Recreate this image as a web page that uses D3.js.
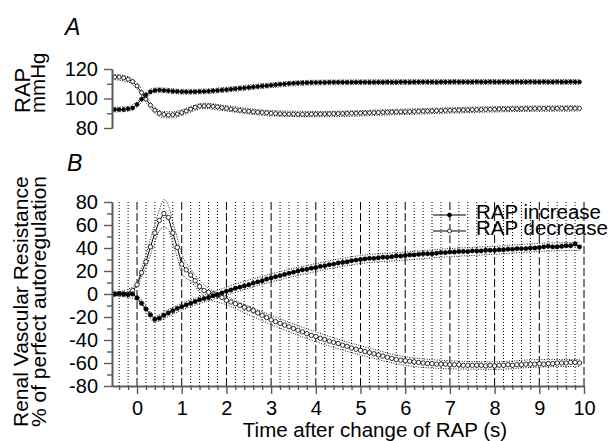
<!DOCTYPE html>
<html>
<head>
<meta charset="utf-8">
<script src="https://cdn.jsdelivr.net/npm/d3@7"></script>
<style>
body { margin: 0; background: #fff; }
text { font-family: "Liberation Sans", Arial, Helvetica, sans-serif; fill: #000; }
</style>
</head>
<body>
<svg id="chart" width="613" height="441"></svg>
<script>
"use strict";

// Samples are 0.1 s apart, from -0.5 s to 9.9 s (105 points)
var times = d3.range(105).map(function (i) { return (i - 5) / 10; });

// Panel A: renal arterial pressure (mmHg)
var rapIncrease = [
    92.5, 92.5, 92.5, 93, 93.5, 96, 99.5, 102.5, 104.5, 105.5,
    105.8, 105.5, 105.3, 105, 104.8, 104.6, 104.5, 104.5, 104.6, 104.7,
    104.8, 105, 105.2, 105.5, 105.7, 106, 106.3, 106.6, 106.9, 107.2,
    107.5, 107.8, 108.1, 108.4, 108.7, 109, 109.3, 109.6, 109.9, 110.1,
    110.3, 110.5, 110.6, 110.7, 110.8, 110.8, 110.9, 110.9, 111, 111,
    111, 111, 111, 111, 111.1, 111.1, 111.1, 111, 111.1, 111.1,
    111.1, 111.2, 111.1, 111.1, 111.2, 111.2, 111.1, 111.2, 111.2, 111.2,
    111.2, 111.2, 111.1, 111.2, 111.2, 111.2, 111.3, 111.2, 111.2, 111.2,
    111.2, 111.3, 111.2, 111.2, 111.3, 111.2, 111.2, 111.3, 111.2, 111.2,
    111.3, 111.2, 111.2, 111.3, 111.2, 111.2, 111.3, 111.2, 111.2, 111.3,
    111.2, 111.2, 111.3, 111.2, 111.2
];
var rapDecrease = [
    114.5, 114.5, 114, 113, 111.5, 108.5, 104, 99.5, 95.5, 92,
    90, 89.2, 88.8, 89, 89.5, 90.5, 91.5, 92.8, 94, 94.8,
    95, 95, 94.7, 94.3, 93.8, 93.3, 92.8, 92.4, 92, 91.6,
    91.3, 91, 90.7, 90.5, 90.3, 90, 89.8, 89.7, 89.5, 89.4,
    89.4, 89.3, 89.3, 89.3, 89.4, 89.4, 89.5, 89.5, 89.6, 89.7,
    89.8, 89.8, 89.9, 90, 90, 90.1, 90.2, 90.3, 90.4, 90.5,
    90.6, 90.7, 90.8, 90.9, 91, 91, 91.1, 91.2, 91.3, 91.4,
    91.5, 91.6, 91.7, 91.8, 91.9, 92, 92, 92.1, 92.2, 92.3,
    92.4, 92.4, 92.5, 92.6, 92.7, 92.7, 92.8, 92.8, 92.9, 93,
    93, 93, 93.1, 93.1, 93.2, 93.2, 93.2, 93.3, 93.2, 93.3,
    93.3, 93.3, 93.4, 93.3, 93.3
];
// Standard error envelopes for panel A, read at coarser times
var bandTimesA = [-0.5, -0.2, 0, 0.2, 0.4, 0.6, 0.8, 1, 1.5, 2, 3, 4, 6, 8, 9.9];
var rapIncHigh = [94.1, 94.6, 97.8, 104.3, 107.1, 107.1, 106.6, 106.2, 106.4, 107.6, 110.6, 112.4, 112.7, 112.8, 112.8];
var rapIncLow = [90.9, 91.4, 94.2, 100.7, 103.9, 103.9, 103.4, 103, 103.2, 104.4, 107.4, 109.2, 109.5, 109.6, 109.6];
var rapDecHigh = [116.3, 114.8, 110.5, 101.5, 94, 91.2, 91, 92.4, 96.8, 95.1, 91.8, 91.2, 92.8, 94.5, 95.1];
var rapDecLow = [112.7, 111.2, 106.5, 97.5, 90, 87, 86.8, 88.5, 93.2, 91.5, 88.2, 87.6, 89.2, 90.9, 91.5];

// Panel B: renal vascular resistance (% of perfect autoregulation)
var rvrIncrease = [
    0, 0.5, 0, -0.5, 0, -3.5, -8, -13, -18, -22,
    -21, -18.5, -16.5, -14.5, -12.5, -11, -9.5, -8, -6.5, -5,
    -4, -3, -1.5, -0.5, 1, 2.5, 3.5, 5, 6, 7,
    8, 9.5, 10.5, 11.5, 13, 14, 15, 16, 17, 18,
    19, 20, 21, 21.5, 22.5, 23, 24, 24.5, 25.5, 26,
    27, 27.5, 28, 29, 29.5, 30, 30.5, 31, 31, 31.5,
    32, 32, 32.5, 33, 33, 33.5, 34, 34, 34.5, 35,
    35, 35, 35.5, 36, 36, 36.5, 36.5, 37, 37, 37,
    37.5, 37.5, 37.5, 38, 38, 38, 38.5, 38.5, 39, 39,
    39.5, 39.5, 39.5, 40, 40, 40.5, 41, 41.5, 41, 41,
    41.5, 42, 42, 43.5, 41
];
var rvrDecrease = [
    0, 0, 0, 0, 3, 8, 18.5, 28, 41, 53,
    64, 70, 66.5, 53, 40.5, 26, 21, 16.5, 11.5, 6.5,
    3, 1.5, 0, -1, -3, -5.5, -7, -8.5, -10, -11.5,
    -13, -14.5, -16.5, -18.5, -20.5, -22.5, -24, -25.5, -27, -28.5,
    -30, -31.5, -33, -34.5, -36, -37, -38.5, -39.5, -41, -42,
    -43, -44.5, -45.5, -47, -48, -49, -50, -51, -52, -53,
    -54, -55, -56, -57, -57.5, -58, -58.5, -59, -59.5, -60,
    -60.5, -60.5, -61, -61, -61, -61.5, -61.5, -61.5, -62, -62,
    -62, -62, -62, -62.5, -62, -62.5, -62, -62, -61.5, -62,
    -61.5, -61.5, -61, -61, -61, -60.5, -61, -60.5, -60.5, -60,
    -60, -60, -59.5, -59.5, -60
];
var bandTimesInc = [-0.5, 0, 0.2, 0.4, 0.6, 1, 1.5, 2, 3, 4, 5, 6, 7, 8, 9, 9.9];
var rvrIncHigh = [1.5, -1.5, -10.5, -19.5, -15.5, -8, -1, 6, 17.5, 26.5, 33.5, 36.5, 39.5, 41.5, 44, 45];
var rvrIncLow = [-1.5, -5, -15.5, -24.5, -21.5, -14, -7, -1, 10.5, 19.5, 26.5, 29.5, 32.5, 34.5, 37, 38];
var bandTimesDec = [-0.5, 0, 0.1, 0.2, 0.3, 0.4, 0.5, 0.6, 0.7, 0.8, 0.9, 1, 1.2, 1.5, 2, 3, 4, 5, 6, 7, 8, 9, 9.9];
var rvrDecHigh = [1, 9, 22, 34, 48, 61, 73, 82, 77, 63, 49, 35, 22, 8, -2, -18.5, -33, -45, -54.5, -58, -59, -57, -57];
var rvrDecLow = [-1, 6, 15, 23, 34, 45, 55, 58, 56, 44, 32, 18, 11, -2, -9.5, -26.5, -41.5, -53, -62, -65, -65.5, -63.5, -63];

var xTicks = [0, 1, 2, 3, 4, 5, 6, 7, 8, 9, 10];
var legendLabels = ["RAP increase", "RAP decrease"];

var svg = d3.select("#chart");
var axisColor = "#5a5a5a";
var fontFamily = "Liberation Sans, Arial, Helvetica, sans-serif";

var x = d3.scaleLinear().domain([-0.56, 10]).range([112, 584]);
var yA = d3.scaleLinear().domain([80, 120]).range([128, 69]);
var yB = d3.scaleLinear().domain([-80, 80]).range([386, 202]);

function zip(ts, vs) {
    return ts.map(function (t, i) { return [t, vs[i]]; });
}

function styleAxis(g) {
    g.attr("font-family", fontFamily).attr("font-size", 20);
    g.select(".domain").attr("stroke", axisColor).attr("stroke-width", 1.6);
    g.selectAll(".tick line").attr("stroke", axisColor).attr("stroke-width", 1.4);
    g.selectAll(".tick text").attr("fill", "#000").style("font-size", "20px");
}

// minor axes carry ticks only, no labels
function minorOnly(g) {
    styleAxis(g);
    g.selectAll(".tick text").remove();
}

// ---- Panel B grid ----
var minorGrid = d3.range(-2, 50).filter(function (i) { return i % 5 !== 0; })
    .map(function (i) { return i / 5; });
var grid = svg.append("g");
grid.selectAll("line.minor")
  .data(minorGrid)
  .enter().append("line")
    .attr("x1", function (d) { return x(d); })
    .attr("x2", function (d) { return x(d); })
    .attr("y1", yB(80))
    .attr("y2", yB(-80))
    .attr("stroke", "#000")
    .attr("stroke-width", 1)
    .attr("stroke-dasharray", "1,2");
grid.selectAll("line.major")
  .data(xTicks)
  .enter().append("line")
    .attr("x1", function (d) { return x(d); })
    .attr("x2", function (d) { return x(d); })
    .attr("y1", yB(80))
    .attr("y2", yB(-80))
    .attr("stroke", "#000")
    .attr("stroke-width", 1)
    .attr("stroke-dasharray", "8,3");

// ---- Bands (dotted) ----
function band(yScale, ts, vs) {
    svg.append("path")
        .datum(zip(ts, vs))
        .attr("fill", "none")
        .attr("stroke", "#000")
        .attr("stroke-width", 0.9)
        .attr("stroke-dasharray", "1,1.5")
        .attr("d", d3.line()
            .x(function (d) { return x(d[0]); })
            .y(function (d) { return yScale(d[1]); })
            .curve(d3.curveMonotoneX));
}
band(yA, bandTimesA, rapIncHigh);
band(yA, bandTimesA, rapIncLow);
band(yA, bandTimesA, rapDecHigh);
band(yA, bandTimesA, rapDecLow);
band(yB, bandTimesInc, rvrIncHigh);
band(yB, bandTimesInc, rvrIncLow);
band(yB, bandTimesDec, rvrDecHigh);
band(yB, bandTimesDec, rvrDecLow);

// ---- Series ----
function series(yScale, vs, filled, r) {
    var pts = zip(times, vs);
    svg.append("path")
        .datum(pts)
        .attr("fill", "none")
        .attr("stroke", "#000")
        .attr("stroke-width", 1)
        .attr("d", d3.line()
            .x(function (d) { return x(d[0]); })
            .y(function (d) { return yScale(d[1]); }));
    svg.append("g").selectAll("circle")
      .data(pts)
      .enter().append("circle")
        .attr("cx", function (d) { return x(d[0]); })
        .attr("cy", function (d) { return yScale(d[1]); })
        .attr("r", r)
        .attr("fill", filled ? "#000" : "#fff")
        .attr("stroke", "#000")
        .attr("stroke-width", filled ? 0.5 : 0.8);
}
series(yA, rapDecrease, false, 2);
series(yA, rapIncrease, true, 2);
series(yB, rvrDecrease, false, 2.2);
series(yB, rvrIncrease, true, 2.2);

// ---- Axes ----
svg.append("g")
    .attr("transform", "translate(112,0)")
    .call(d3.axisLeft(yA).tickValues([90, 110]).tickSize(5).tickSizeOuter(0))
    .call(minorOnly);
svg.append("g")
    .attr("transform", "translate(112,0)")
    .call(d3.axisLeft(yA).tickValues([80, 100, 120]).tickSize(8).tickPadding(6).tickSizeOuter(0))
    .call(styleAxis);

svg.append("g")
    .attr("transform", "translate(112,0)")
    .call(d3.axisLeft(yB).tickValues(d3.range(-70, 80, 20)).tickSize(5).tickSizeOuter(0))
    .call(minorOnly);
svg.append("g")
    .attr("transform", "translate(112,0)")
    .call(d3.axisLeft(yB).tickValues(d3.range(-80, 81, 20)).tickSize(8).tickPadding(6).tickSizeOuter(0)
        .tickFormat(function (d) { return d < 0 ? "-" + Math.abs(d) : d; }))
    .call(styleAxis);

svg.append("g")
    .attr("transform", "translate(0,386)")
    .call(d3.axisBottom(x).tickValues(minorGrid).tickSize(4).tickSizeOuter(0))
    .call(minorOnly);
svg.append("g")
    .attr("transform", "translate(0,386)")
    .call(d3.axisBottom(x).tickValues(xTicks).tickSize(8).tickPadding(7).tickSizeOuter(0))
    .call(styleAxis);

// ---- Titles and labels ----
svg.append("text").attr("x", 65).attr("y", 35)
    .attr("font-size", 23).attr("font-style", "italic").text("A");
svg.append("text").attr("x", 67).attr("y", 171)
    .attr("font-size", 23).attr("font-style", "italic").text("B");

svg.append("text").attr("transform", "translate(30,113) rotate(-90)")
    .attr("font-size", 22).text("RAP");
svg.append("text").attr("transform", "translate(45,113) rotate(-90)")
    .attr("font-size", 20.5).text("mmHg");

svg.append("text").attr("transform", "translate(28,427) rotate(-90)")
    .attr("font-size", 21).text("Renal Vascular Resistance");
svg.append("text").attr("transform", "translate(46,427) rotate(-90)")
    .attr("font-size", 21).text("% of perfect autoregulation");

svg.append("text").attr("x", 375).attr("y", 437)
    .attr("text-anchor", "middle").attr("font-size", 20.5)
    .text("Time after change of RAP (s)");

// ---- Legend ----
var legend = svg.append("g");
legendLabels.forEach(function (label, i) {
    var ly = 215 + i * 16;
    legend.append("line")
        .attr("x1", 433).attr("x2", 466).attr("y1", ly).attr("y2", ly)
        .attr("stroke", "#000").attr("stroke-width", 1);
    legend.append("circle")
        .attr("cx", 449.5).attr("cy", ly).attr("r", 2)
        .attr("fill", i === 0 ? "#000" : "#fff")
        .attr("stroke", "#000").attr("stroke-width", 0.8);
    legend.append("text")
        .attr("x", 476).attr("y", ly + 4)
        .attr("font-size", 20.5)
        .text(label);
});
</script>
</body>
</html>
